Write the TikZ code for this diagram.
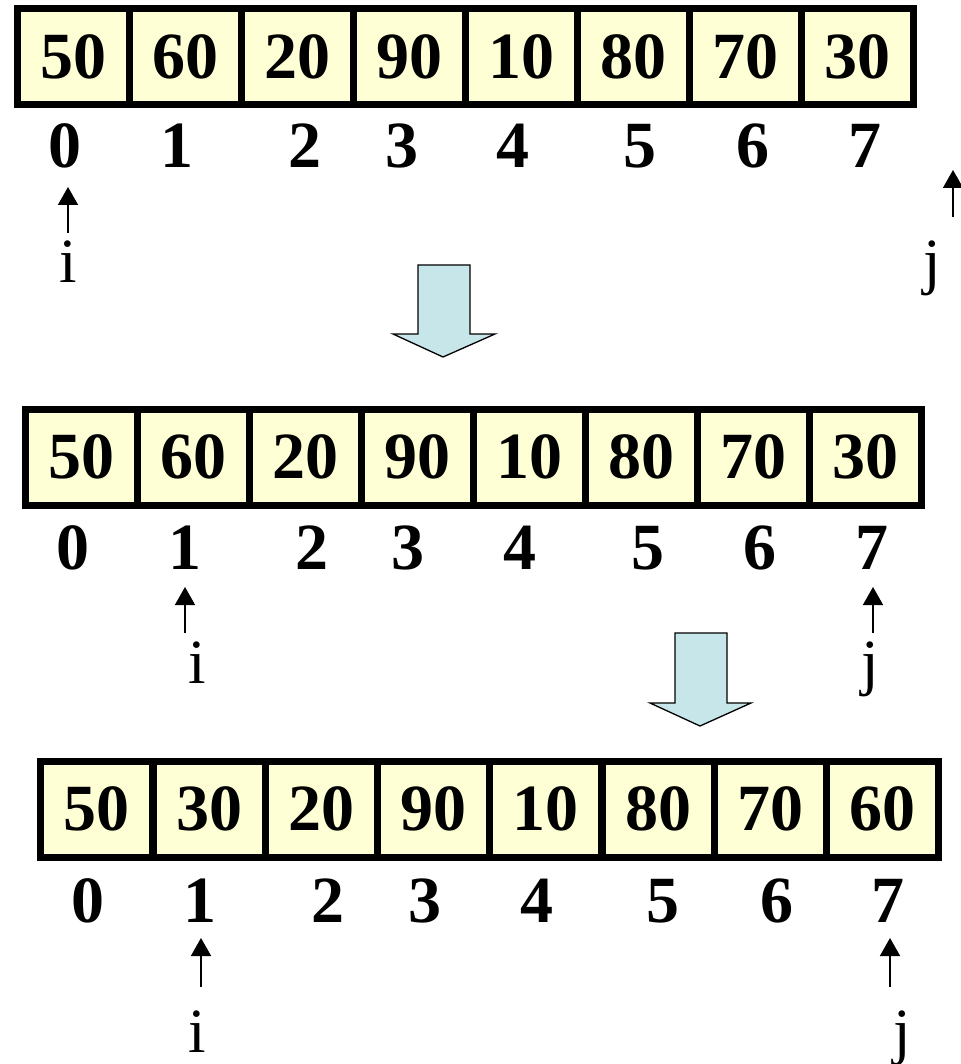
\documentclass[tikz,border=0pt]{standalone}
\usepackage{fontspec}
\setmainfont{Liberation Serif}
\usetikzlibrary{arrows.meta}
\definecolor{cellfill}{HTML}{FFFFD5}
\definecolor{blockfill}{HTML}{C6E6E9}
\tikzset{
  cell/.style={draw=black, fill=cellfill, line width=7pt, minimum width=112pt, minimum height=96pt,
    inner sep=0pt, outer sep=0pt, font=\fontsize{66}{66}\selectfont\bfseries},
  idx/.style={anchor=base, inner sep=0pt, font=\fontsize{66}{66}\selectfont\bfseries},
  ptrlabel/.style={anchor=base, inner sep=0pt, font=\fontsize{63}{63}\selectfont},
  ptr/.style={line width=1.6pt, -{Triangle[width=20pt,length=18pt]}},
  block/.style={draw=black, line width=1.3pt, fill=blockfill, line join=miter}
}
\begin{document}
\begin{tikzpicture}[x=1pt,y=-1pt]
\useasboundingbox[fill=white] (0,0) rectangle (960,1064);

% ---------- row 1 ----------
\foreach \v [count=\k from 0] in {50,60,20,90,10,80,70,30}{
  \node[cell] (r1c\k) at ({17+56+112*\k},56.5) {\v};
}
\foreach \x [count=\k from 0] in {65,177,305,402,513,640,753,865}{
  \node[idx] (r1i\k) at (\x,168) {\k};
}
\node[ptrlabel] (r1pi) at (68,283) {i};
\node[ptrlabel] (r1pj) at (932,283) {j};
\coordinate (r1is) at (68,233); \coordinate (r1ie) at (68,187);
\coordinate (r1js) at (953,217); \coordinate (r1je) at (953,170);
\draw[ptr] (r1is) -- (r1ie);
\draw[ptr] (r1js) -- (r1je);

% block arrow 1
\draw[block] (418,265) -- (470,265) -- (470,334) -- (495,334) -- (443,357) -- (393,334) -- (418,334) -- cycle;

% ---------- row 2 ----------
\foreach \v [count=\k from 0] in {50,60,20,90,10,80,70,30}{
  \node[cell] (r2c\k) at ({25.5+56+112*\k},457) {\v};
}
\foreach \x [count=\k from 0] in {73,185,312,408,520,648,760,872}{
  \node[idx] (r2i\k) at (\x,569) {\k};
}
\node[ptrlabel] (r2pi) at (197,683) {i};
\node[ptrlabel] (r2pj) at (870,683) {j};
\coordinate (r2is) at (185,633); \coordinate (r2ie) at (185,587);
\coordinate (r2js) at (873,633); \coordinate (r2je) at (873,587);
\draw[ptr] (r2is) -- (r2ie);
\draw[ptr] (r2js) -- (r2je);

% block arrow 2
\draw[block] (675,633) -- (727,633) -- (727,703) -- (751,703) -- (700,726) -- (650,703) -- (675,703) -- cycle;

% ---------- row 3 ----------
\foreach \v [count=\k from 0] in {50,30,20,90,10,80,70,60}{
  \node[cell] (r3c\k) at ({40.5+56.25+112.25*\k},809) {\v};
}
\foreach \x [count=\k from 0] in {88,200,328,425,537,663,777,888}{
  \node[idx] (r3i\k) at (\x,922) {\k};
}
\node[ptrlabel] (r3pi) at (197,1052) {i};
\node[ptrlabel] (r3pj) at (902,1052) {j};
\coordinate (r3is) at (201,987); \coordinate (r3ie) at (201,938);
\coordinate (r3js) at (890,987); \coordinate (r3je) at (890,938);
\draw[ptr] (r3is) -- (r3ie);
\draw[ptr] (r3js) -- (r3je);
\end{tikzpicture}
\end{document}
